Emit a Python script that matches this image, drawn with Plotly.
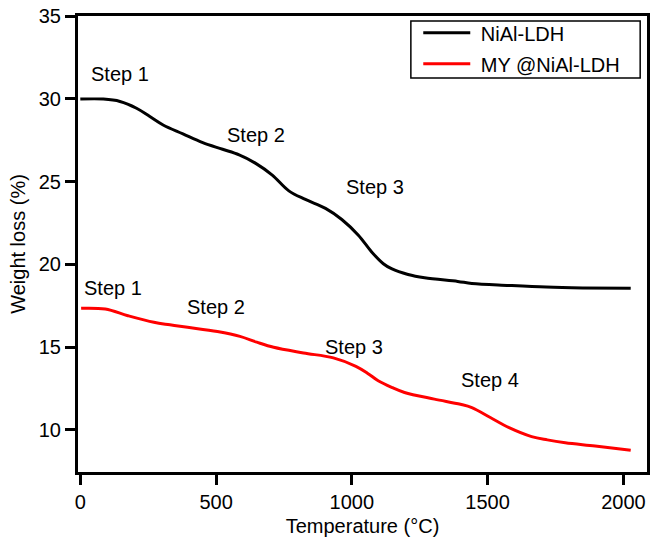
import plotly.graph_objects as go

# Temperature (°C) and weight-loss (%) values
nial_T = [0, 85, 146, 207, 256, 305, 378, 451, 524, 585, 646, 707, 768, 829,
          903, 963, 1024, 1073, 1116, 1146, 1207, 1268, 1390, 1442, 1579, 1716,
          1850, 2027]
nial_W = [29.98, 29.98, 29.84, 29.43, 28.93, 28.42, 27.88, 27.35, 26.95, 26.61,
          26.10, 25.39, 24.44, 23.92, 23.38, 22.71, 21.76, 20.75, 20.04, 19.74,
          19.39, 19.19, 18.97, 18.85, 18.73, 18.63, 18.58, 18.55]

my_T = [3, 92, 175, 271, 330, 395, 505, 588, 650, 712, 822, 932, 1015, 1060,
        1097, 1150, 1194, 1304, 1400, 1442, 1510, 1579, 1662, 1720, 1786, 1896,
        2027]
my_W = [17.35, 17.30, 16.90, 16.50, 16.35, 16.20, 15.94, 15.65, 15.30, 14.99,
        14.65, 14.35, 13.84, 13.40, 12.97, 12.55, 12.26, 11.86, 11.55, 11.35,
        10.75, 10.14, 9.60, 9.40, 9.23, 9.03, 8.77]

# step labels: (temperature, weight, text)
nial_steps_T = [146, 646, 1086]
nial_steps_W = [31.5, 27.8, 24.7]
my_steps_T = [120, 500, 1009, 1507]
my_steps_W = [18.6, 17.4, 15.0, 13.0]
step_text_nial = ["Step 1", "Step 2", "Step 3"]
step_text_my = ["Step 1", "Step 2", "Step 3", "Step 4"]

x_ticks = [0, 500, 1000, 1500, 2000]
y_ticks = [10, 15, 20, 25, 30, 35]

series_names = ["NiAl-LDH", "MY @NiAl-LDH"]

FONT = "Liberation Sans, Arial, Helvetica, sans-serif"
PAD = "\u00a0"

fig = go.Figure()
fig.add_trace(go.Scatter(x=nial_T, y=nial_W, mode="lines", name=PAD + series_names[0],
                         legendgroup="a",
                         line=dict(color="black", width=3, shape="spline")))
fig.add_trace(go.Scatter(x=my_T, y=my_W, mode="lines", name=PAD + series_names[1],
                         legendgroup="b",
                         line=dict(color="#ff0000", width=3, shape="spline")))

for t, w, s in zip(nial_steps_T, nial_steps_W, step_text_nial):
    fig.add_annotation(x=t, y=w, text=s, showarrow=False,
                       font=dict(size=20, color="black", family=FONT))
for t, w, s in zip(my_steps_T, my_steps_W, step_text_my):
    fig.add_annotation(x=t, y=w, text=s, showarrow=False,
                       font=dict(size=20, color="black", family=FONT))

# legend frame
fig.add_shape(type="rect", xref="paper", yref="paper",
              x0=0.585, x1=0.988, y0=0.864, y1=0.989,
              line=dict(color="black", width=1.5), fillcolor="rgba(0,0,0,0)")

fig.update_layout(
    width=652, height=537,
    margin=dict(l=78, r=2, t=16, b=65),
    paper_bgcolor="white", plot_bgcolor="white",
    font=dict(family=FONT, size=20, color="black"),
    showlegend=True,
    legend=dict(x=0.598, y=1.006, xanchor="left", yanchor="top",
                bgcolor="rgba(0,0,0,0)", borderwidth=0,
                font=dict(size=20, family=FONT), itemwidth=47,
                tracegroupgap=2),
    xaxis=dict(range=[-8.5, 2087], tickvals=x_ticks, ticks="outside",
               ticklen=10, tickwidth=3, tickcolor="black",
               showline=True, linewidth=3, linecolor="black", mirror=True,
               showgrid=False, zeroline=False,
               title=dict(text="Temperature (°C)", standoff=8,
                          font=dict(size=20)),
               tickfont=dict(size=20)),
    yaxis=dict(range=[7.46, 35], tickvals=y_ticks, ticks="outside",
               ticklen=10, tickwidth=3, tickcolor="black",
               showline=True, linewidth=3, linecolor="black", mirror=True,
               showgrid=False, zeroline=False,
               title=dict(text="Weight loss (%)", standoff=8,
                          font=dict(size=20)),
               tickfont=dict(size=20)),
)

fig.write_html("out.html")
